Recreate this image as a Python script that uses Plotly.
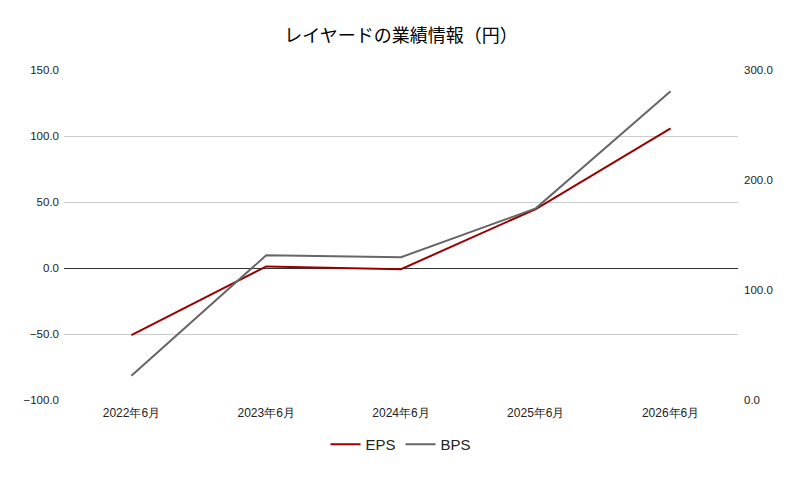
import plotly.graph_objects as go

categories = ["2022年6月", "2023年6月", "2024年6月", "2025年6月", "2026年6月"]
eps = [-50.8, 1.2, -0.9, 44.7, 105.8]
bps = [22.0, 131.5, 129.8, 174.2, 280.6]

fig = go.Figure()
fig.add_trace(go.Scatter(x=categories, y=eps, name="EPS", mode="lines",
                         line=dict(color="#990000", width=2), yaxis="y"))
fig.add_trace(go.Scatter(x=categories, y=bps, name="BPS", mode="lines",
                         line=dict(color="#666666", width=2), yaxis="y2"))

fig.update_layout(
    width=802, height=479,
    paper_bgcolor="white", plot_bgcolor="white",
    margin=dict(l=64, r=64, t=70, b=79),
    title=dict(text="レイヤードの業績情報（円）", x=0.5, xanchor="center", y=0.925, yanchor="middle",
               font=dict(family="Noto Sans CJK JP", size=18, color="#000000")),
    font=dict(family="Liberation Sans, Arial", size=11, color="#222222"),
    xaxis=dict(range=[-0.5, 4.5], showgrid=False, showline=False, ticks="",
               ticklabelstandoff=4, tickfont=dict(size=12, color="#222222")),
    yaxis=dict(range=[-100, 150], dtick=50, tickformat=".1f", showgrid=True, gridcolor="#cccccc",
               zeroline=True, zerolinecolor="#333333", zerolinewidth=1, ticks="",
               ticklabelstandoff=4, tickfont=dict(size=11.5, color="#222222")),
    yaxis2=dict(range=[0, 300], dtick=100, tickformat=".1f", overlaying="y", side="right",
                showgrid=False, zeroline=False, ticks="", ticklabelstandoff=5,
                tickfont=dict(size=11.5, color="#222222")),
    legend=dict(orientation="h", x=0.5, xanchor="center", y=-0.085, yanchor="top",
                font=dict(size=15, color="#222222")),
    showlegend=True,
)

fig.write_html("out.html", config={"displayModeBar": False},
               post_script="document.body.style.margin='0';")
